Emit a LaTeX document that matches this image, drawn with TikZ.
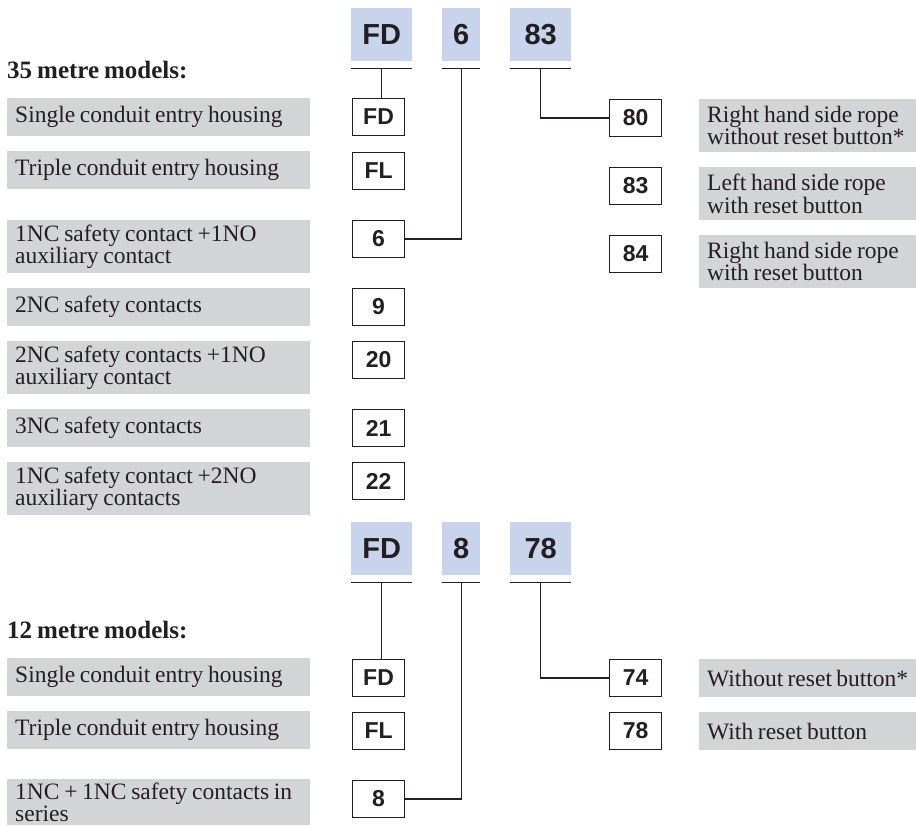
\documentclass[tikz,border=0pt]{standalone}
\usepackage{fontspec}
\setmainfont{Liberation Serif}[WordSpace=0.8]
\setsansfont{Liberation Sans}
\usepackage{xcolor}
\usepackage{tikz}
\usetikzlibrary{calc}
\definecolor{hdrblue}{RGB}{200,212,235}
\definecolor{descgray}{RGB}{211,212,214}
\definecolor{ink}{RGB}{35,31,32}

\begin{document}
\begin{tikzpicture}[
            x=1pt, y=-1pt,
            hdr/.style={fill=hdrblue, minimum height=53pt, inner sep=0pt, anchor=north west,
                text=ink, font=\sffamily\bfseries\fontsize{29}{29}\selectfont},
            code/.style={draw=ink, line width=1.1pt, minimum width=52pt, minimum height=37pt,
                inner sep=0pt, anchor=north west, text=ink,
                font=\sffamily\bfseries\fontsize{23}{23}\selectfont},
            desc/.style={fill=descgray, anchor=north west, minimum height=38pt, inner xsep=8pt,
                inner ysep=0pt, align=flush left, text width=#1, text=ink,
                font=\fontsize{23.5}{22.5}\selectfont},
            desc/.default=287pt,
            twoline/.style={minimum height=53pt},
            heading/.style={anchor=base west, inner sep=0pt, text=ink,
                font=\bfseries\fontsize{25}{25}\selectfont},
            link/.style={draw=ink, line width=1.2pt}
        ]
        \useasboundingbox (0,0) rectangle (916,825);
        % 35 metre models
        \node[hdr, minimum width=61pt] (hFD) at (351,8) {FD};
        \node[hdr, minimum width=38pt] (h6) at (442,8) {6};
        \node[hdr, minimum width=61pt] (h83) at (510,8) {83};
        \node[heading] (t35) at (7,78) {35 metre models:};
        \node[desc] (dFD) at (7,98) {Single conduit entry housing};
        \node[desc] (dFL) at (7,151) {Triple conduit entry housing};
        \node[desc, twoline] (d6) at (7,220) {1NC safety contact +1NO\\auxiliary contact};
        \node[desc] (d9) at (7,288) {2NC safety contacts};
        \node[desc, twoline] (d20) at (7,341) {2NC safety contacts +1NO\\auxiliary contact};
        \node[desc] (d21) at (7,409) {3NC safety contacts};
        \node[desc, twoline] (d22) at (7,462) {1NC safety contact +2NO\\auxiliary contacts};
        \node[code] (cFD) at (352,98) {FD};
        \node[code] (cFL) at (352,152) {FL};
        \node[code] (c6) at (352,220) {6};
        \node[code] (c9) at (352,288) {9};
        \node[code] (c20) at (352,341) {20};
        \node[code] (c21) at (352,409) {21};
        \node[code] (c22) at (352,462) {22};
        \node[code] (c80) at (609,99) {80};
        \node[code] (c83) at (609,167) {83};
        \node[code] (c84) at (609,235) {84};
        \node[desc=201pt, twoline] (d80) at (699,99) {Right hand side rope\\without reset button*};
        \node[desc=201pt, twoline] (d83) at (699,167) {Left hand side rope\\with reset button};
        \node[desc=201pt, twoline] (d84) at (699,235) {Right hand side rope\\with reset button};
        \foreach \h in {hFD, h6, h83}
            \draw[link] ([yshift=-7pt]\h.south west) -- ([yshift=-7pt]\h.south east);
        \draw[link] ([yshift=-7pt]hFD.south) -- (hFD.south |- cFD.north);
        \draw[link] ([yshift=-7pt]h6.south) |- (c6.east);
        \draw[link] ([yshift=-7pt]h83.south) |- (c80.west);
        % 12 metre models
        \node[hdr, minimum width=61pt] (hFDb) at (351,522) {FD};
        \node[hdr, minimum width=38pt] (h8) at (442,522) {8};
        \node[hdr, minimum width=61pt] (h78) at (510,522) {78};
        \node[heading] (t12) at (7,638) {12 metre models:};
        \node[desc] (dFDb) at (7,658) {Single conduit entry housing};
        \node[desc] (dFLb) at (7,711) {Triple conduit entry housing};
        \node[desc, minimum height=46pt] (d8) at (7,779) {1NC + 1NC safety contacts in\\series};
        \node[code] (cFDb) at (352,659) {FD};
        \node[code] (cFLb) at (352,712) {FL};
        \node[code] (c8) at (352,780) {8};
        \node[code] (c74) at (609,659) {74};
        \node[code] (c78) at (609,712) {78};
        \node[desc=201pt] (d74) at (699,659) {Without reset button*};
        \node[desc=201pt] (d78) at (699,712) {With reset button};
        \foreach \h in {hFDb, h8, h78}
            \draw[link] ([yshift=-7pt]\h.south west) -- ([yshift=-7pt]\h.south east);
        \draw[link] ([yshift=-7pt]hFDb.south) -- (hFDb.south |- cFDb.north);
        \draw[link] ([yshift=-7pt]h8.south) |- (c8.east);
        \draw[link] ([yshift=-7pt]h78.south) |- (c74.west);
    \end{tikzpicture}
\end{document}
